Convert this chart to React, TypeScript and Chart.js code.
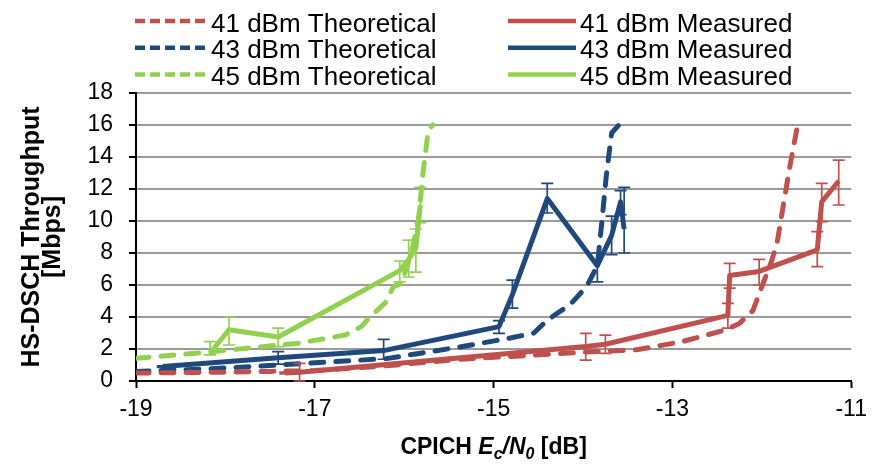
import React, { useEffect, useRef } from 'react';
import { Chart, registerables } from 'chart.js';

Chart.register(...registerables);

const FONT = "'Liberation Sans', Arial, sans-serif";
const RED = '#C0504D';
const BLUE = '#1F497D';
const GREEN = '#92D050';

// Axis ticks
const xMin = -19;
const xMax = -11;
const xStep = 2;
const yMin = 0;
const yMax = 18;
const yStep = 2;

// 41 dBm Theoretical
const theo41X = [-19, -18, -17.5, -17, -16.2, -15.4, -14.6, -14.0, -13.4, -12.9, -12.4, -12.25, -12.1, -12.0, -11.9, -11.83, -11.75, -11.68, -11.6];
const theo41Y = [0.5, 0.55, 0.6, 0.65, 0.95, 1.35, 1.6, 1.8, 1.95, 2.45, 3.2, 3.6, 4.4, 5.9, 7.35, 8.6, 11.3, 13.6, 16];

// 43 dBm Theoretical
const theo43X = [-19, -18.2, -17.4, -16.8, -16.2, -15.8, -15.3, -14.8, -14.55, -14.4, -14.14, -13.96, -13.84, -13.79, -13.74, -13.68, -13.6];
const theo43Y = [0.6, 0.75, 1.0, 1.2, 1.4, 1.75, 2.2, 2.7, 3.0, 3.8, 4.8, 5.9, 7.2, 9.9, 12.8, 15.5, 16];

// 45 dBm Theoretical
const theo45X = [-19, -18.2, -17.4, -17.2, -16.66, -16.48, -16.4, -16.21, -16.12, -16.03, -15.92, -15.84, -15.79, -15.73, -15.68];
const theo45Y = [1.42, 1.8, 2.25, 2.35, 2.87, 3.4, 3.9, 4.9, 5.9, 6.1, 8.0, 10.1, 13.0, 15.7, 16];

// 41 dBm Measured
const meas41X = [-17.33, -17.17, -13.97, -13.75, -12.38, -12.36, -12.03, -11.38, -11.33, -11.14];
const meas41Y = [0.5, 0.55, 2.15, 2.3, 4.1, 6.6, 6.85, 8.2, 11.2, 12.5];
const meas41Low = [0.45, 0.0, 1.31, 1.73, 3.3, 5.8, 6.0, 7.15, 9.96, 11.0];
const meas41High = [0.55, 1.1, 2.98, 2.87, 4.85, 7.35, 7.6, 9.33, 12.35, 13.8];

// 43 dBm Measured
const meas43X = [-18.7, -17.41, -16.23, -14.94, -14.79, -14.4, -13.84, -13.68, -13.58, -13.54];
const meas43Y = [0.9, 1.45, 1.9, 3.4, 5.4, 11.4, 7.2, 9.1, 11.2, 9.5];
const meas43Low = [0.85, 1.06, 1.36, 2.98, 4.56, 10.5, 6.2, 7.9, 10.4, 8.0];
const meas43High = [0.95, 1.83, 2.6, 3.77, 6.3, 12.35, 8.0, 10.3, 11.9, 12.1];

// 45 dBm Measured
const meas45X = [-18.17, -17.96, -17.41, -16.05, -15.95, -15.87, -15.82];
const meas45Y = [1.75, 3.2, 2.75, 6.9, 7.6, 8.3, 11.0];
const meas45Low = [1.63, 2.25, 2.15, 6.2, 6.5, 6.8, 9.9];
const meas45High = [2.46, 4.0, 3.3, 7.5, 8.8, 9.5, 12.1];

const toPoints = (xs: number[], ys: number[]) => xs.map((x, i) => ({ x, y: ys[i] }));

const errorData: Record<string, { low: number[]; high: number[] }> = {
  '41 dBm Measured': { low: meas41Low, high: meas41High },
  '43 dBm Measured': { low: meas43Low, high: meas43High },
  '45 dBm Measured': { low: meas45Low, high: meas45High },
};

export default function App() {
  const ref = useRef<HTMLCanvasElement>(null);

  useEffect(() => {
    if (!ref.current) return;

    const errorBarPlugin = {
      id: 'errorBars',
      afterDatasetsDraw(chart: any) {
        const { ctx } = chart;
        const xs = chart.scales.x;
        const ys = chart.scales.y;
        ctx.save();
        chart.data.datasets.forEach((ds: any) => {
          const err = errorData[ds.label];
          if (!err) return;
          ctx.strokeStyle = ds.borderColor;
          ctx.lineWidth = 1.7;
          ctx.setLineDash([]);
          ds.data.forEach((p: any, j: number) => {
            const px = xs.getPixelForValue(p.x);
            const yl = ys.getPixelForValue(err.low[j]);
            const yh = ys.getPixelForValue(err.high[j]);
            ctx.beginPath();
            ctx.moveTo(px, yl);
            ctx.lineTo(px, yh);
            ctx.moveTo(px - 6, yl);
            ctx.lineTo(px + 6, yl);
            ctx.moveTo(px - 6, yh);
            ctx.lineTo(px + 6, yh);
            ctx.stroke();
          });
        });
        ctx.restore();
      },
    };

    const legendPlugin = {
      id: 'gridLegend',
      afterDraw(chart: any) {
        const { ctx } = chart;
        const left = chart.chartArea.left;
        const dsets = chart.data.datasets;
        const baselines = [31.5, 58.2, 85];
        const cols = [
          { lineX: left - 1, len: 70, textX: left + 75 },
          { lineX: left + 372, len: 68, textX: left + 444 },
        ];
        ctx.save();
        ctx.font = `26px ${FONT}`;
        ctx.textBaseline = 'alphabetic';
        ctx.textAlign = 'left';
        dsets.forEach((ds: any, i: number) => {
          const col = cols[i < 3 ? 0 : 1];
          const row = i % 3;
          const yLine = baselines[row] - 10.5;
          ctx.strokeStyle = ds.borderColor;
          ctx.lineWidth = 4.5;
          ctx.lineCap = 'butt';
          ctx.setLineDash(i < 3 ? [10, 5] : []);
          ctx.beginPath();
          ctx.moveTo(col.lineX, yLine);
          ctx.lineTo(col.lineX + col.len, yLine);
          ctx.stroke();
          ctx.setLineDash([]);
          ctx.fillStyle = '#000';
          ctx.fillText(ds.label, col.textX, baselines[row]);
        });
        ctx.restore();
      },
    };

    const xTitlePlugin = {
      id: 'xTitle',
      afterDraw(chart: any) {
        const { ctx, chartArea } = chart;
        const big = 23;
        const small = 16;
        const parts = [
          { t: 'CPICH ', f: `bold ${big}px ${FONT}`, dy: 0 },
          { t: 'E', f: `italic bold ${big}px ${FONT}`, dy: 0 },
          { t: 'c', f: `italic bold ${small}px ${FONT}`, dy: 5 },
          { t: '/', f: `italic bold ${big}px ${FONT}`, dy: 0 },
          { t: 'N', f: `italic bold ${big}px ${FONT}`, dy: 0 },
          { t: '0', f: `italic bold ${small}px ${FONT}`, dy: 5 },
          { t: ' [dB]', f: `bold ${big}px ${FONT}`, dy: 0 },
        ];
        ctx.save();
        ctx.textBaseline = 'alphabetic';
        ctx.textAlign = 'left';
        ctx.fillStyle = '#000';
        let total = 0;
        const widths = parts.map((p) => {
          ctx.font = p.f;
          const w = ctx.measureText(p.t).width;
          total += w;
          return w;
        });
        let x = (chartArea.left + chartArea.right) / 2 - total / 2;
        const base = chartArea.bottom + 73;
        parts.forEach((p, i) => {
          ctx.font = p.f;
          ctx.fillText(p.t, x, base + p.dy);
          x += widths[i];
        });
        ctx.restore();
      },
    };

    const theoStyle = {
      borderWidth: 5,
      borderDash: [13, 12],
      borderCapStyle: 'round' as const,
      borderJoinStyle: 'round' as const,
      pointRadius: 0,
      pointHoverRadius: 0,
      tension: 0,
      fill: false,
      order: 1,
    };
    const measStyle = {
      borderWidth: 5,
      borderCapStyle: 'butt' as const,
      borderJoinStyle: 'round' as const,
      pointRadius: 0,
      pointHoverRadius: 0,
      tension: 0,
      fill: false,
      order: 0,
    };

    const chart = new Chart(ref.current, {
      type: 'line',
      data: {
        datasets: [
          { label: '41 dBm Theoretical', data: toPoints(theo41X, theo41Y), borderColor: RED, backgroundColor: RED, ...theoStyle },
          { label: '43 dBm Theoretical', data: toPoints(theo43X, theo43Y), borderColor: BLUE, backgroundColor: BLUE, ...theoStyle },
          { label: '45 dBm Theoretical', data: toPoints(theo45X, theo45Y), borderColor: GREEN, backgroundColor: GREEN, ...theoStyle },
          { label: '41 dBm Measured', data: toPoints(meas41X, meas41Y), borderColor: RED, backgroundColor: RED, ...measStyle },
          { label: '43 dBm Measured', data: toPoints(meas43X, meas43Y), borderColor: BLUE, backgroundColor: BLUE, ...measStyle },
          { label: '45 dBm Measured', data: toPoints(meas45X, meas45Y), borderColor: GREEN, backgroundColor: GREEN, ...measStyle },
        ],
      },
      options: {
        animation: false,
        responsive: false,
        parsing: false as any,
        layout: { padding: { top: 93, right: 19, left: 0, bottom: 0 } },
        plugins: {
          legend: { display: false },
          tooltip: { enabled: false },
        },
        scales: {
          x: {
            type: 'linear',
            min: xMin,
            max: xMax,
            afterFit: (s: any) => {
              s.height = 85;
            },
            ticks: {
              stepSize: xStep,
              font: { family: FONT, size: 23 },
              color: '#000',
              padding: 8,
              maxRotation: 0,
            },
            grid: {
              drawOnChartArea: false,
              drawTicks: true,
              tickLength: 7,
              tickColor: '#000',
              tickWidth: 2,
            },
            border: { color: '#000', width: 2 },
          },
          y: {
            type: 'linear',
            min: yMin,
            max: yMax,
            afterFit: (s: any) => {
              s.width = 136;
            },
            ticks: {
              stepSize: yStep,
              font: { family: FONT, size: 23 },
              color: '#000',
              padding: 16,
            },
            grid: {
              color: '#9a9a9a',
              lineWidth: 2,
              tickColor: '#000',
              tickLength: 7,
              tickWidth: 2,
            },
            border: { color: '#000', width: 2 },
            title: {
              display: true,
              text: ['HS-DSCH Throughput', '[Mbps]'],
              color: '#000',
              font: { family: FONT, size: 25, weight: 'bold', lineHeight: 0.84 },
              padding: { top: 22, bottom: 0 },
            },
          },
        },
      },
      plugins: [errorBarPlugin, legendPlugin, xTitlePlugin],
    });

    return () => chart.destroy();
  }, []);

  return (
    <div style={{ position: 'fixed', left: 0, top: 0, width: 875, height: 466, background: '#fff' }}>
      <canvas ref={ref} width={875} height={466} style={{ display: 'block' }} />
    </div>
  );
}
